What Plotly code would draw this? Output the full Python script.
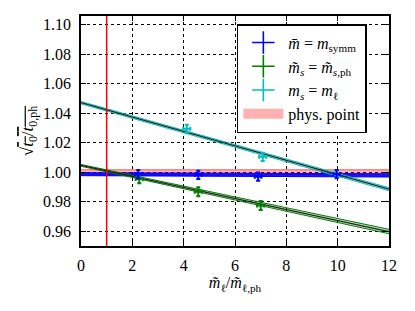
import plotly.graph_objects as go

# ---- data ----
fit_x = [0.0, 12.0]

# m_bar = m_symm (blue)
blue_x = [2.23, 4.57, 6.90, 9.96]
blue_y = [0.9988, 0.9983, 0.9970, 0.9988]
blue_xerr = [0.13, 0.13, 0.13, 0.13]
blue_yerr = [0.0028, 0.0028, 0.0028, 0.0028]
blue_fit = [0.9987, 0.9979]
blue_fit_err = [0.0010, 0.0011]

# m_s = m_s,ph (green)
green_x = [2.27, 4.57, 7.00]
green_y = [0.9955, 0.9868, 0.9775]
green_xerr = [0.14, 0.14, 0.14]
green_yerr = [0.0030, 0.0030, 0.0030]
green_fit = [1.0047, 0.9598]
green_fit_err = [0.0006, 0.0015]

# m_s = m_l (cyan)
cyan_x = [4.12, 7.08, 9.96]
cyan_y = [1.0295, 1.0105, 0.9988]
cyan_xerr = [0.14, 0.14, 0.14]
cyan_yerr = [0.0028, 0.0028, 0.0025]
cyan_fit = [1.0472, 0.9885]
cyan_fit_err = [0.0008, 0.0010]

# physical point
phys_x = 1.0
phys_y = 1.0
phys_err = 0.0017

legend_names = [
    "<i>m̄</i> = <i>m</i><sub>symm</sub>",
    "<i>m̃<sub>s</sub></i> = <i>m̃</i><sub><i>s</i>,ph</sub>",
    "<i>m<sub>s</sub></i> = <i>m</i><sub>ℓ</sub>",
    "phys. point",
]

BLUE = "#0000ff"
GREEN = "#007f00"
CYAN = "#00bfbf"
RED = "#ff0000"

FONT = "Liberation Serif, Times New Roman, serif"

fig = go.Figure()

def band(xs, center, err, color, fillcolor, center_color, center_width, edge_width):
    lo = [c - e for c, e in zip(center, err)]
    hi = [c + e for c, e in zip(center, err)]
    fig.add_trace(go.Scatter(x=xs, y=lo, mode="lines", line=dict(color=color, width=edge_width),
                             showlegend=False, hoverinfo="skip"))
    fig.add_trace(go.Scatter(x=xs, y=hi, mode="lines", line=dict(color=color, width=edge_width),
                             fill="tonexty", fillcolor=fillcolor, showlegend=False, hoverinfo="skip"))
    if center_color:
        fig.add_trace(go.Scatter(x=xs, y=center, mode="lines",
                                 line=dict(color=center_color, width=center_width),
                                 showlegend=False, hoverinfo="skip"))

# physical point band
band(fit_x, [phys_y, phys_y], [phys_err, phys_err], "rgba(255,0,0,0.6)", "rgba(255,0,0,0.3)", None, 1, 1)
# fits
band(fit_x, blue_fit, blue_fit_err, BLUE, "rgba(0,0,255,0.9)", None, 1, 1)
band(fit_x, green_fit, green_fit_err, GREEN, "rgba(0,127,0,0.25)", "#222222", 1.2, 1)
band(fit_x, cyan_fit, cyan_fit_err, CYAN, "rgba(0,191,191,0.25)", "#222222", 1.2, 1)

def points(xs, ys, xe, ye, color):
    fig.add_trace(go.Scatter(
        x=xs, y=ys, mode="markers",
        marker=dict(size=1, color=color, opacity=0),
        error_x=dict(type="data", array=xe, color=color, thickness=2, width=2),
        error_y=dict(type="data", array=ye, color=color, thickness=2, width=2),
        showlegend=False, hoverinfo="skip"))

points(cyan_x, cyan_y, cyan_xerr, cyan_yerr, CYAN)
points(green_x, green_y, green_xerr, green_yerr, GREEN)
points(blue_x, blue_y, blue_xerr, blue_yerr, BLUE)

# vertical line at physical point
fig.add_vline(x=phys_x, line=dict(color=RED, width=1.5), layer="above")

# legend entries
for name, color in zip(legend_names[:3], [BLUE, GREEN, CYAN]):
    fig.add_trace(go.Scatter(
        x=[None], y=[None], mode="markers", name=name,
        marker=dict(symbol="cross-thin", size=16, color=color,
                    line=dict(color=color, width=1.6))))
fig.add_trace(go.Scatter(
    x=[None], y=[None], mode="lines", name=legend_names[3],
    line=dict(color="#ffb0b0", width=10)))

axis_common = dict(
    showline=True, linecolor="black", linewidth=1.5, mirror="ticks",
    ticks="inside", ticklen=5, tickcolor="black", tickwidth=1,
    showgrid=True, gridcolor="black", griddash="dot", gridwidth=1,
    zeroline=False, tickfont=dict(family=FONT, size=16, color="black"),
    automargin=True,
)

fig.update_xaxes(range=[0, 12], tickvals=[0, 2, 4, 6, 8, 10, 12],
                 ticklabelstandoff=4,
                 title=dict(text="<i>m̃</i><sub>ℓ</sub>/<i>m̃</i><sub>ℓ,ph</sub>",
                            font=dict(family=FONT, size=16, color="black"), standoff=4),
                 **axis_common)
fig.update_yaxes(range=[0.95, 1.106],
                 tickvals=[0.96, 0.98, 1.00, 1.02, 1.04, 1.06, 1.08, 1.10],
                 ticktext=["0.96", "0.98", "1.00", "1.02", "1.04", "1.06", "1.08", "1.10"],
                 ticklabelstandoff=5,
                 title=dict(text="√<span style='text-decoration:overline'><i>t</i><sub>0</sub>/<i>t</i><sub>0,ph</sub></span>",
                            font=dict(family=FONT, size=17, color="black"), standoff=5),
                 **axis_common)

fig.update_layout(
    width=415, height=311,
    margin=dict(l=73, r=34, t=8, b=73, autoexpand=False),
    plot_bgcolor="white", paper_bgcolor="white",
    font=dict(family=FONT, size=16, color="black"),
    legend=dict(x=0.506, y=0.965, xanchor="left", yanchor="top",
                bgcolor="white", bordercolor="black", borderwidth=1.5,
                font=dict(family=FONT, size=16, color="black"),
                traceorder="normal", itemwidth=40, tracegroupgap=0),
    showlegend=True,
)

fig.write_html("out.html")
